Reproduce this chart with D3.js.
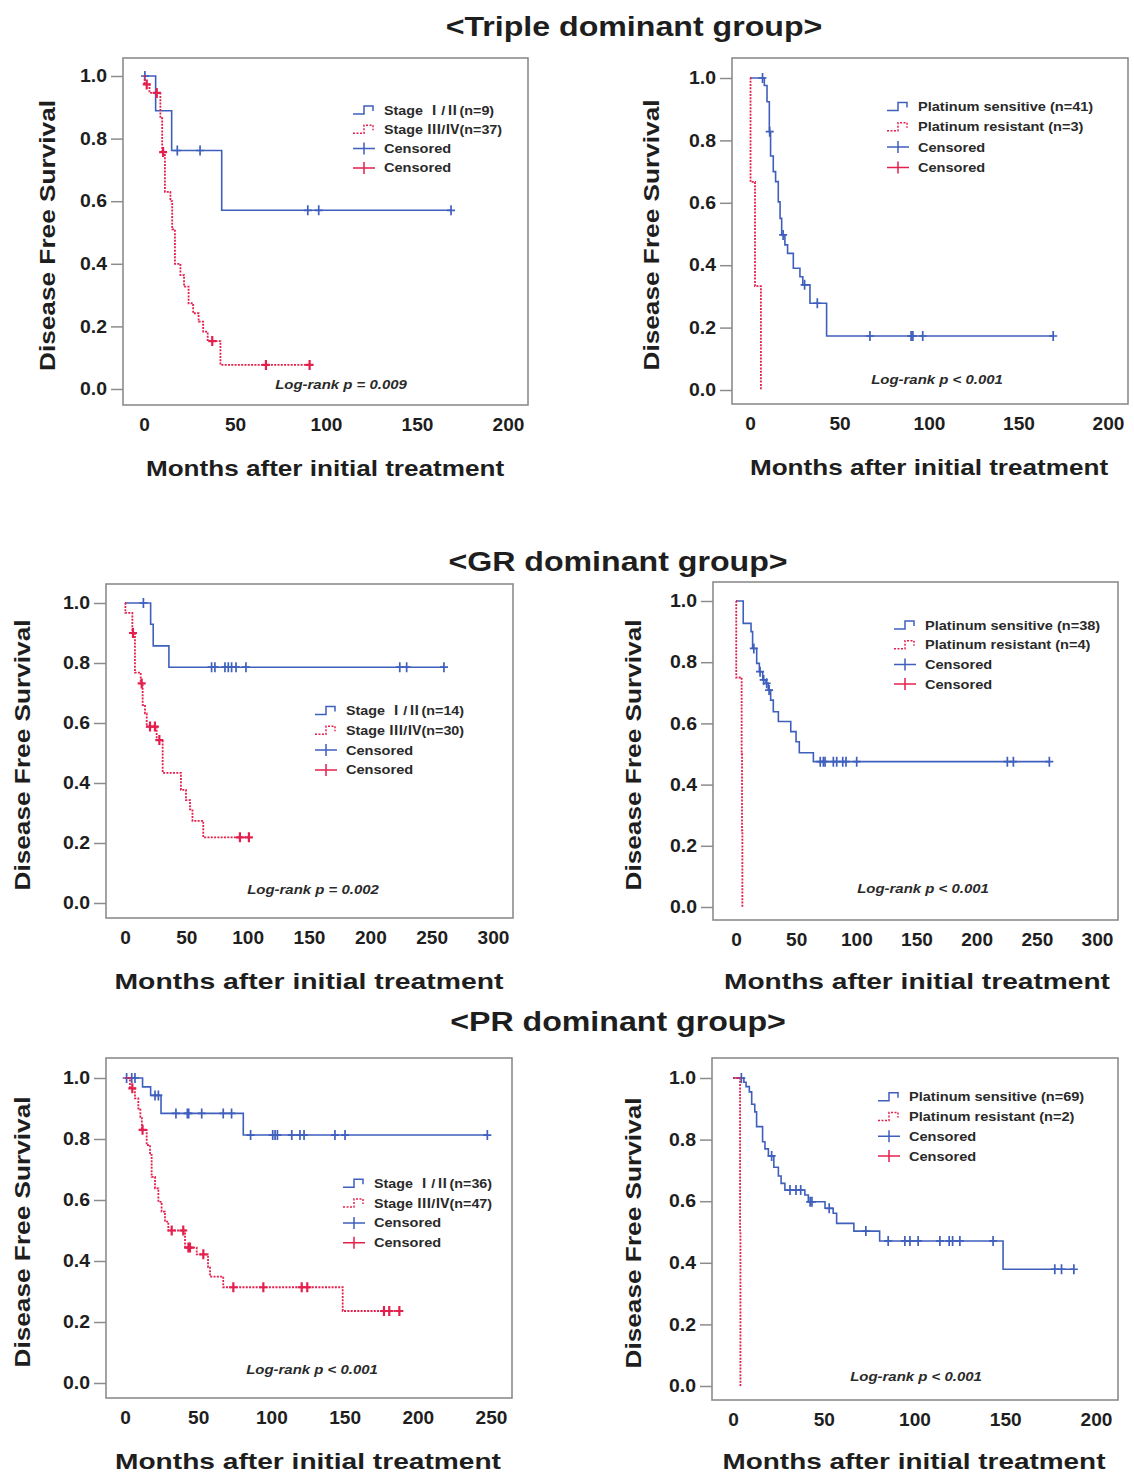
<!DOCTYPE html>
<html>
<head>
<meta charset="utf-8">
<script src="https://cdn.jsdelivr.net/npm/d3@7"></script>
<style>
  body { margin: 0; background: #fff; }
  text { font-family: "Liberation Sans", Arial, sans-serif; }
</style>
</head>
<body>
<svg width="1134" height="1473"></svg>
<script>
// ---- data (months, survival) ----

// Triple dominant group, by stage
var triEarlyTime = [0, 6.4, 15.2, 42.7];
var triEarlySurv = [1, 0.889, 0.762, 0.571];
var triEarlyCens = [0.5, 18.3, 30.8, 90, 96, 168.7];
var triLateTime = [0, 0.3, 3, 9, 10, 11.5, 14.5, 15.5, 17, 20, 22, 24.5, 27, 30, 32.5, 35, 42];
var triLateSurv = [1, 0.973, 0.946, 0.865, 0.757, 0.63, 0.6, 0.51, 0.4, 0.364, 0.327, 0.274, 0.242, 0.215, 0.183, 0.153, 0.077];
var triLateCens = [1.5, 7, 10.5, 37.5, 67, 91];

// Triple dominant group, by platinum response
var triSensTime = [0, 8, 9.5, 10.8, 11.5, 13, 14.3, 15.8, 16.8, 17.7, 19.5, 21, 24.2, 27.9, 29.5, 33.5, 42.8];
var triSensSurv = [1, 0.976, 0.924, 0.828, 0.75, 0.7, 0.668, 0.603, 0.55, 0.497, 0.465, 0.438, 0.39, 0.363, 0.337, 0.278, 0.173];
var triSensCens = [7, 11, 18.5, 30.5, 37.6, 67, 90, 91, 96.5, 169.4];
var triResTime = [0, 0.3, 2.8, 6.1];
var triResSurv = [1, 0.667, 0.333, 0];
var triResCens = [];

// GR dominant group, by stage
var grEarlyTime = [0, 20.9, 23, 35.8];
var grEarlySurv = [1, 0.929, 0.857, 0.786];
var grEarlyCens = [15, 70.6, 73.3, 81.5, 84.2, 86.9, 90.5, 98.6, 224, 229.6, 260];
var grLateTime = [0, 0.3, 6, 8.1, 12.8, 14.4, 16.3, 17.7, 25.8, 30.7, 45.6, 49.7, 53, 55, 63.8];
var grLateSurv = [1, 0.967, 0.9, 0.768, 0.732, 0.66, 0.632, 0.588, 0.543, 0.434, 0.377, 0.343, 0.312, 0.274, 0.219];
var grLateCens = [6.5, 13.6, 20.4, 24.4, 28, 93.7, 101];

// GR dominant group, by platinum response
var grSensTime = [0, 6, 12.5, 13.8, 17.2, 19.4, 22.2, 24.9, 26.8, 28.8, 31, 35.2, 45.5, 49.9, 52.6, 64.3];
var grSensSurv = [1, 0.927, 0.9, 0.845, 0.796, 0.769, 0.742, 0.731, 0.709, 0.676, 0.638, 0.606, 0.573, 0.54, 0.504, 0.475];
var grSensCens = [14.8, 20, 23, 25.5, 27.5, 70, 72.6, 74, 80.9, 83.7, 88.7, 91.4, 100.3, 225.5, 230.5, 260.4];
var grResTime = [0, 0.2, 4.7, 5, 5.3];
var grResSurv = [1, 0.75, 0.5, 0.25, 0];
var grResCens = [];

// PR dominant group, by stage
var prEarlyTime = [0, 12, 17.5, 24.6, 80.8];
var prEarlySurv = [1, 0.971, 0.943, 0.884, 0.813];
var prEarlyCens = [1.1, 4.6, 6.8, 20.5, 22.8, 34.8, 42.6, 43.5, 52.4, 67.1, 72.8, 85.8, 100.9, 102.5, 104.1, 113.9, 119.5, 122.3, 143.4, 150.3, 247.5];
var prLateTime = [0, 3.4, 6.8, 9.1, 10.5, 11.5, 14.8, 17.1, 18.2, 20.5, 22.8, 25, 27.3, 29.6, 41, 49, 56.7, 58.1, 67.1, 148.7];
var prLateSurv = [1, 0.966, 0.933, 0.9, 0.873, 0.83, 0.78, 0.748, 0.676, 0.638, 0.594, 0.562, 0.529, 0.5, 0.444, 0.422, 0.381, 0.349, 0.314, 0.236];
var prLateCens = [5, 12, 31.9, 39.8, 43.3, 44.4, 53.5, 74, 94.5, 120.7, 124.5, 176.9, 180.5, 187.4];

// PR dominant group, by platinum response
var prSensTime = [0, 6, 7.2, 9, 10.3, 12, 13, 16.3, 17.6, 19.5, 22.5, 25, 26.5, 28.6, 39.6, 41.5, 50.7, 55.2, 57.1, 66.6, 80.8, 148.8];
var prSensSurv = [1, 0.986, 0.972, 0.955, 0.915, 0.89, 0.842, 0.793, 0.77, 0.747, 0.71, 0.682, 0.658, 0.636, 0.62, 0.598, 0.577, 0.561, 0.528, 0.503, 0.471, 0.379];
var prSensCens = [4.6, 21.3, 31.4, 34.7, 37.3, 42.5, 43.5, 53, 73.2, 85.5, 94.7, 97.5, 102, 114, 119.1, 121, 125, 143.3, 177.3, 181, 187.8];
var prResTime = [0, 3.9, 4.1];
var prResSurv = [1, 0.5, 0];
var prResCens = [];

// ---- labels ----
var groupTitles = ['<Triple dominant group>', '<GR dominant group>', '<PR dominant group>'];
var yTicks = [0, 0.2, 0.4, 0.6, 0.8, 1.0];
var xTicks200 = [0, 50, 100, 150, 200];
var xTicks250 = [0, 50, 100, 150, 200, 250];
var xTicks300 = [0, 50, 100, 150, 200, 250, 300];
var legendTri = ['Stage  Ⅰ/Ⅱ(n=9)', 'Stage Ⅲ/Ⅳ(n=37)'];
var legendTriPlat = ['Platinum sensitive (n=41)', 'Platinum resistant (n=3)'];
var legendGr = ['Stage  Ⅰ/Ⅱ(n=14)', 'Stage Ⅲ/Ⅳ(n=30)'];
var legendGrPlat = ['Platinum sensitive (n=38)', 'Platinum resistant (n=4)'];
var legendPr = ['Stage  Ⅰ/Ⅱ(n=36)', 'Stage Ⅲ/Ⅳ(n=47)'];
var legendPrPlat = ['Platinum sensitive (n=69)', 'Platinum resistant (n=2)'];
var pValues = ['p = 0.009', 'p < 0.001', 'p = 0.002', 'p < 0.001', 'p < 0.001', 'p < 0.001'];

var blue = '#3f5fbd';
var red = '#e3204d';
var textColor = '#1e1e1e';

var svg = d3.select('svg');

// The source picture is a bit stretched sideways, so widen the text to match:
function stretch(sel, f) {
  sel.each(function () {
    var w = this.getComputedTextLength();
    d3.select(this).attr('textLength', w * f).attr('lengthAdjust', 'spacingAndGlyphs');
  });
}

// Titles of the three groups:
var titleX = [634, 618, 618];
var titleY = [36, 571, 1031];
groupTitles.forEach(function (t, i) {
  svg.append('text')
    .attr('x', titleX[i]).attr('y', titleY[i])
    .attr('text-anchor', 'middle')
    .attr('font-size', 27).attr('font-weight', 'bold')
    .attr('fill', textColor)
    .text(t)
    .call(stretch, 1.19);
});

// Layout of each panel (box, axis pixel ranges, legend & label spots):
var panels = [
  { box: [123, 58, 528, 405], xr: [144, 508], yr: [389, 76], xMax: 200, ticks: xTicks200,
    ylab: 47, xlab: [325, 476, 1.16], leg: [353, 110, 19.3], p: [341, 389],
    a: [triEarlyTime, triEarlySurv, triEarlyCens], b: [triLateTime, triLateSurv, triLateCens], legend: legendTri },
  { box: [732, 58, 1128, 404], xr: [750, 1108], yr: [390, 78], xMax: 200, ticks: xTicks200,
    ylab: 651, xlab: [929, 475, 1.16], leg: [887, 106.5, 20.3], p: [937, 384],
    a: [triSensTime, triSensSurv, triSensCens], b: [triResTime, triResSurv, triResCens], legend: legendTriPlat },
  { box: [106, 584, 513, 918], xr: [125, 493], yr: [903, 603], xMax: 300, ticks: xTicks300,
    ylab: 22, xlab: [309, 989, 1.26], leg: [315, 710.5, 19.8], p: [313, 894],
    a: [grEarlyTime, grEarlySurv, grEarlyCens], b: [grLateTime, grLateSurv, grLateCens], legend: legendGr },
  { box: [713, 582, 1118, 920], xr: [736, 1097], yr: [907, 601], xMax: 300, ticks: xTicks300,
    ylab: 633, xlab: [917, 989, 1.25], leg: [894, 625, 19.7], p: [923, 893],
    a: [grSensTime, grSensSurv, grSensCens], b: [grResTime, grResSurv, grResCens], legend: legendGrPlat },
  { box: [106, 1058, 512, 1398], xr: [125, 491], yr: [1383, 1078], xMax: 250, ticks: xTicks250,
    ylab: 22, xlab: [308, 1469, 1.25], leg: [343, 1183.3, 19.8], p: [312, 1374],
    a: [prEarlyTime, prEarlySurv, prEarlyCens], b: [prLateTime, prLateSurv, prLateCens], legend: legendPr },
  { box: [712, 1058, 1118, 1400], xr: [733, 1096], yr: [1386, 1078], xMax: 200, ticks: xTicks200,
    ylab: 633, xlab: [914, 1469, 1.24], leg: [878, 1096.7, 19.8], p: [916, 1381],
    a: [prSensTime, prSensSurv, prSensCens], b: [prResTime, prResSurv, prResCens], legend: legendPrPlat }
];

panels.forEach(function (cfg, i) { drawPanel(cfg, i); });

function drawPanel(cfg, i) {
  var x = d3.scaleLinear().domain([0, cfg.xMax]).range(cfg.xr);
  var y = d3.scaleLinear().domain([0, 1]).range(cfg.yr);
  var g = svg.append('g');
  var b = cfg.box;

  // Frame:
  g.append('rect')
    .attr('x', b[0]).attr('y', b[1])
    .attr('width', b[2] - b[0]).attr('height', b[3] - b[1])
    .attr('fill', 'none').attr('stroke', '#8c8c8c').attr('stroke-width', 1.6);

  // Y axis, ticks sticking out to the left of the frame:
  var yAxis = d3.axisLeft(y).tickValues(yTicks).tickFormat(d3.format('.1f')).tickSize(12).tickPadding(4);
  var ya = g.append('g').attr('transform', 'translate(' + b[0] + ',0)').call(yAxis);
  ya.select('.domain').remove();
  ya.selectAll('line').attr('stroke', '#8c8c8c').attr('stroke-width', 1.5);
  ya.selectAll('text').attr('font-size', 18).attr('font-weight', 'bold').attr('fill', textColor)
    .attr('font-family', '"Liberation Sans", Arial, sans-serif')
    .call(stretch, 1.08);

  // X axis labels only:
  var xAxis = d3.axisBottom(x).tickValues(cfg.ticks).tickSize(0).tickPadding(13);
  var xa = g.append('g').attr('transform', 'translate(0,' + b[3] + ')').call(xAxis);
  xa.select('.domain').remove();
  xa.selectAll('text').attr('font-size', 18).attr('font-weight', 'bold').attr('fill', textColor)
    .attr('font-family', '"Liberation Sans", Arial, sans-serif')
    .call(stretch, 1.06);

  // Axis titles:
  g.append('text')
    .attr('transform', 'translate(' + (cfg.ylab + 8) + ',' + ((b[1] + b[3]) / 2 + 4) + ') rotate(-90)')
    .attr('text-anchor', 'middle')
    .attr('font-size', 22.5).attr('font-weight', 'bold').attr('fill', textColor)
    .text('Disease Free Survival')
    .call(stretch, 1.165);
  g.append('text')
    .attr('x', cfg.xlab[0]).attr('y', cfg.xlab[1])
    .attr('text-anchor', 'middle')
    .attr('font-size', 22.5).attr('font-weight', 'bold').attr('fill', textColor)
    .text('Months after initial treatment')
    .call(stretch, cfg.xlab[2]);

  // Curves:
  drawCurve(g, x, y, cfg.a, blue, false);
  drawCurve(g, x, y, cfg.b, red, true);

  // Legend:
  var lx = cfg.leg[0], ly = cfg.leg[1], dy = cfg.leg[2];
  var legItems = [
    { label: cfg.legend[0], col: blue, kind: 'step', dash: null },
    { label: cfg.legend[1], col: red, kind: 'step', dash: '2,1.5' },
    { label: 'Censored', col: blue, kind: 'cens' },
    { label: 'Censored', col: red, kind: 'cens' }
  ];
  legItems.forEach(function (it, k) {
    var cy = ly + k * dy;
    if (it.kind === 'step') {
      g.append('path')
        .attr('d', 'M' + lx + ',' + (cy + 4) + 'H' + (lx + 11) + 'V' + (cy - 4) + 'H' + (lx + 20) + 'V' + (cy + 1))
        .attr('fill', 'none').attr('stroke', it.col).attr('stroke-width', 1.5)
        .attr('stroke-dasharray', it.dash);
    } else {
      g.append('path')
        .attr('d', 'M' + lx + ',' + cy + 'H' + (lx + 22) + 'M' + (lx + 11) + ',' + (cy - 6) + 'V' + (cy + 6))
        .attr('fill', 'none').attr('stroke', it.col).attr('stroke-width', 1.5);
    }
    var t = g.append('text')
      .attr('x', lx + 31).attr('y', cy + 4.5)
      .attr('font-size', 13).attr('font-weight', 'bold').attr('fill', '#2a2a2a');
    // Roman numerals come out full width, as in the source:
    var parts = it.label.split(/([\u2160-\u216B])/);
    parts.forEach(function (p) {
      if (!p) return;
      var ts = t.append('tspan').text(p);
      if (/[\u2160-\u216B]/.test(p)) ts.attr('font-family', '"Noto Sans CJK KR", "DejaVu Sans", sans-serif');
    });
    t.call(stretch, parts.length === 1 ? 1.12 : 1.1);
  });

  // Log-rank note:
  g.append('text')
    .attr('x', cfg.p[0]).attr('y', cfg.p[1])
    .attr('text-anchor', 'middle')
    .attr('font-size', 13).attr('font-weight', 'bold').attr('font-style', 'italic')
    .attr('fill', '#2a2a2a')
    .text('Log-rank ' + pValues[i])
    .call(stretch, 1.15);
}

function drawCurve(g, x, y, series, col, dotted) {
  var times = series[0], surv = series[1], cens = series[2];
  var end = Math.max(times[times.length - 1], d3.max(cens) || 0);
  var pts = times.map(function (t, k) { return [t, surv[k]]; });
  pts.push([end, surv[surv.length - 1]]);

  var line = d3.line()
    .x(function (d) { return x(d[0]); })
    .y(function (d) { return y(d[1]); })
    .curve(d3.curveStepAfter);

  g.append('path')
    .datum(pts)
    .attr('d', line)
    .attr('fill', 'none')
    .attr('stroke', col)
    .attr('stroke-width', dotted ? 1.8 : 1.6)
    .attr('stroke-dasharray', dotted ? '2,1.3' : null);

  // Censor marks sit on the curve:
  cens.forEach(function (c) {
    var s = surv[Math.max(0, d3.bisectRight(times, c) - 1)];
    var cx = x(c), cy = y(s);
    g.append('path')
      .attr('d', 'M' + (cx - 4) + ',' + cy + 'H' + (cx + 4) + 'M' + cx + ',' + (cy - 5) + 'V' + (cy + 5))
      .attr('stroke', col)
      .attr('stroke-width', dotted ? 2.2 : 1.7);
  });
}
</script>
</body>
</html>
